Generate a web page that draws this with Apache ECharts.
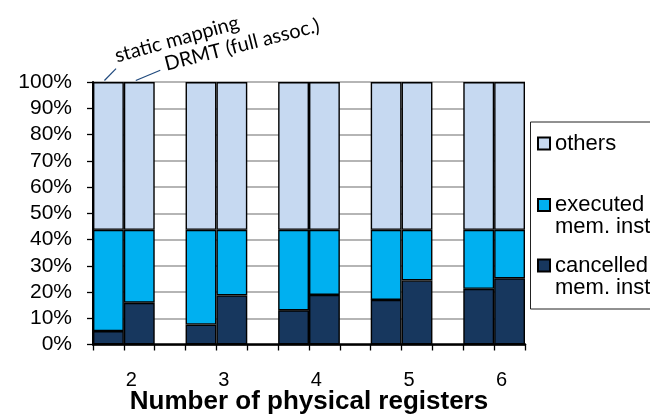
<!DOCTYPE html>
<html>
<head>
<meta charset="utf-8">
<script src="https://cdn.jsdelivr.net/npm/echarts@6.0.0/dist/echarts.min.js"></script>
<style>
  html, body { margin: 0; padding: 0; background: #fff; }
  #chart { width: 650px; height: 414px; }
</style>
</head>
<body>
<div id="chart"></div>
<script>
// ---- data ----
const categories = ['2', '3', '4', '5', '6'];
const yTicks = [0, 10, 20, 30, 40, 50, 60, 70, 80, 90, 100];
const seriesNames = ['cancelled\nmem. instr.', 'executed\nmem. instr.', 'others'];
const barNames = ['static mapping', 'DRMT (full assoc.)'];
// static mapping bars
const staticCancelled = [5.1, 7.6, 13.0, 17.0, 21.2];
const staticExecuted  = [38.6, 36.1, 30.7, 26.7, 22.5];
const staticOthers    = [56.3, 56.3, 56.3, 56.3, 56.3];
// DRMT (full assoc.) bars
const drmtCancelled = [15.9, 18.7, 18.9, 24.4, 25.2];
const drmtExecuted  = [27.8, 25.0, 24.8, 19.3, 18.5];
const drmtOthers    = [56.3, 56.3, 56.3, 56.3, 56.3];

const colors = ['#17375E', '#00B0F0', '#C6D9F1'];

// ---- build slot layout: static, DRMT, gap, ... ----
const slots = [];
function slotData(stat, drmt) {
  const out = [];
  categories.forEach((c, i) => {
    out.push(stat[i]); out.push(drmt[i]);
    if (i < categories.length - 1) out.push('-');
  });
  return out;
}
categories.forEach((c, i) => {
  slots.push('s' + c); slots.push('d' + c);
  if (i < categories.length - 1) slots.push('gap' + c);
});
const seriesValues = [
  slotData(staticCancelled, drmtCancelled),
  slotData(staticExecuted, drmtExecuted),
  slotData(staticOthers, drmtOthers)
];

const FONT = 'Liberation Sans, Arial, sans-serif';
const chart = echarts.init(document.getElementById('chart'), null, { renderer: 'canvas' });

const LH = 22;
const legendCenters = [265.5, 205, 143.5];
const legends = seriesNames.map((n, i) => {
  const twoLine = n.indexOf('\n') >= 0;
  return {
    data: [n],
    orient: 'vertical',
    left: 537,
    top: legendCenters[i] - LH / 2,
    padding: 0,
    itemWidth: 12,
    itemHeight: twoLine ? 12 + LH : 12,
    itemGap: 0,
    selectedMode: false,
    icon: twoLine ? 'path://M0,0L12,0L12,12L0,12Z M0,34Z' : 'rect',
    textStyle: { fontFamily: FONT, fontSize: 22, color: '#000', lineHeight: LH }
  };
});

const option = {
  animation: false,
  backgroundColor: '#fff',
  grid: { left: 93, right: 125, top: 82, bottom: 69.5, containLabel: false, outerBoundsMode: 'none' },
  legend: legends,
  xAxis: {
    type: 'category',
    data: slots,
    boundaryGap: true,
    axisLine: { lineStyle: { color: '#000', width: 2.5 } },
    axisTick: { show: true, interval: 0, length: 6, lineStyle: { color: '#000', width: 1.3 } },
    axisLabel: {
      interval: 0,
      margin: 26,
      fontFamily: FONT, fontSize: 20, color: '#000',
      padding: [0, 16, 0, 0],
      formatter: (v, idx) => (idx % 3 === 1 ? categories[(idx - 1) / 3] : '')
    },
    name: 'Number of physical registers',
    nameLocation: 'middle',
    nameGap: 44,
    nameMoveOverlap: false,
    nameTextStyle: { fontFamily: FONT, fontSize: 26, fontWeight: 'bold', color: '#000' },
    splitLine: { show: false }
  },
  yAxis: {
    type: 'value',
    min: yTicks[0], max: yTicks[yTicks.length - 1], interval: 10,
    axisLine: { show: true, lineStyle: { color: '#000', width: 2 } },
    axisTick: { show: true, length: 6, lineStyle: { color: '#000', width: 1.3 } },
    axisLabel: { margin: 21, fontFamily: FONT, fontSize: 21, color: '#000', formatter: '{value}%' },
    splitLine: { show: true, lineStyle: { color: '#9C9C9C', width: 1.5 } }
  },
  series: seriesNames.map((n, i) => ({
    name: n,
    type: 'bar',
    stack: 'total',
    barCategoryGap: '0%',
    barWidth: '100%',
    data: seriesValues[i],
    itemStyle: { color: colors[i], borderColor: '#000', borderWidth: 1.4 },
    emphasis: { disabled: true }
  }))
};
chart.setOption(option);

// annotations placed relative to the first pair of bars
const p0 = chart.convertToPixel({ gridIndex: 0 }, [0, 100]);
const p1 = chart.convertToPixel({ gridIndex: 0 }, [1, 100]);
const lineColor = '#1F497D';
chart.setOption({
  graphic: [
    { type: 'rect', shape: { x: 530.5, y: 122, width: 200, height: 187 },
      style: { fill: 'none', stroke: '#222', lineWidth: 1 }, z: 1 },
    { type: 'line', shape: { x1: p0[0] - 4, y1: p0[1] - 1.5, x2: p0[0] + 7.6, y2: p0[1] - 13.4 },
      style: { stroke: lineColor, lineWidth: 1.2 } },
    { type: 'line', shape: { x1: p1[0] - 3.5, y1: p1[1] - 1.5, x2: p1[0] + 21, y2: p1[1] - 11.7 },
      style: { stroke: lineColor, lineWidth: 1.2 } },
    { type: 'text', x: p0[0] + 9.5, y: p0[1] - 20 + 4, rotation: 0.27,
      style: { text: barNames[0], fontFamily: 'Lato, sans-serif', fontSize: 20, fill: '#000',
               align: 'left', verticalAlign: 'bottom' } },
    { type: 'text', x: p1[0] + 28, y: p1[1] - 11.7 + 4, rotation: 0.25,
      style: { text: barNames[1], fontFamily: 'Lato, sans-serif', fontSize: 20, fill: '#000',
               align: 'left', verticalAlign: 'bottom' } }
  ]
});
</script>
</body>
</html>
